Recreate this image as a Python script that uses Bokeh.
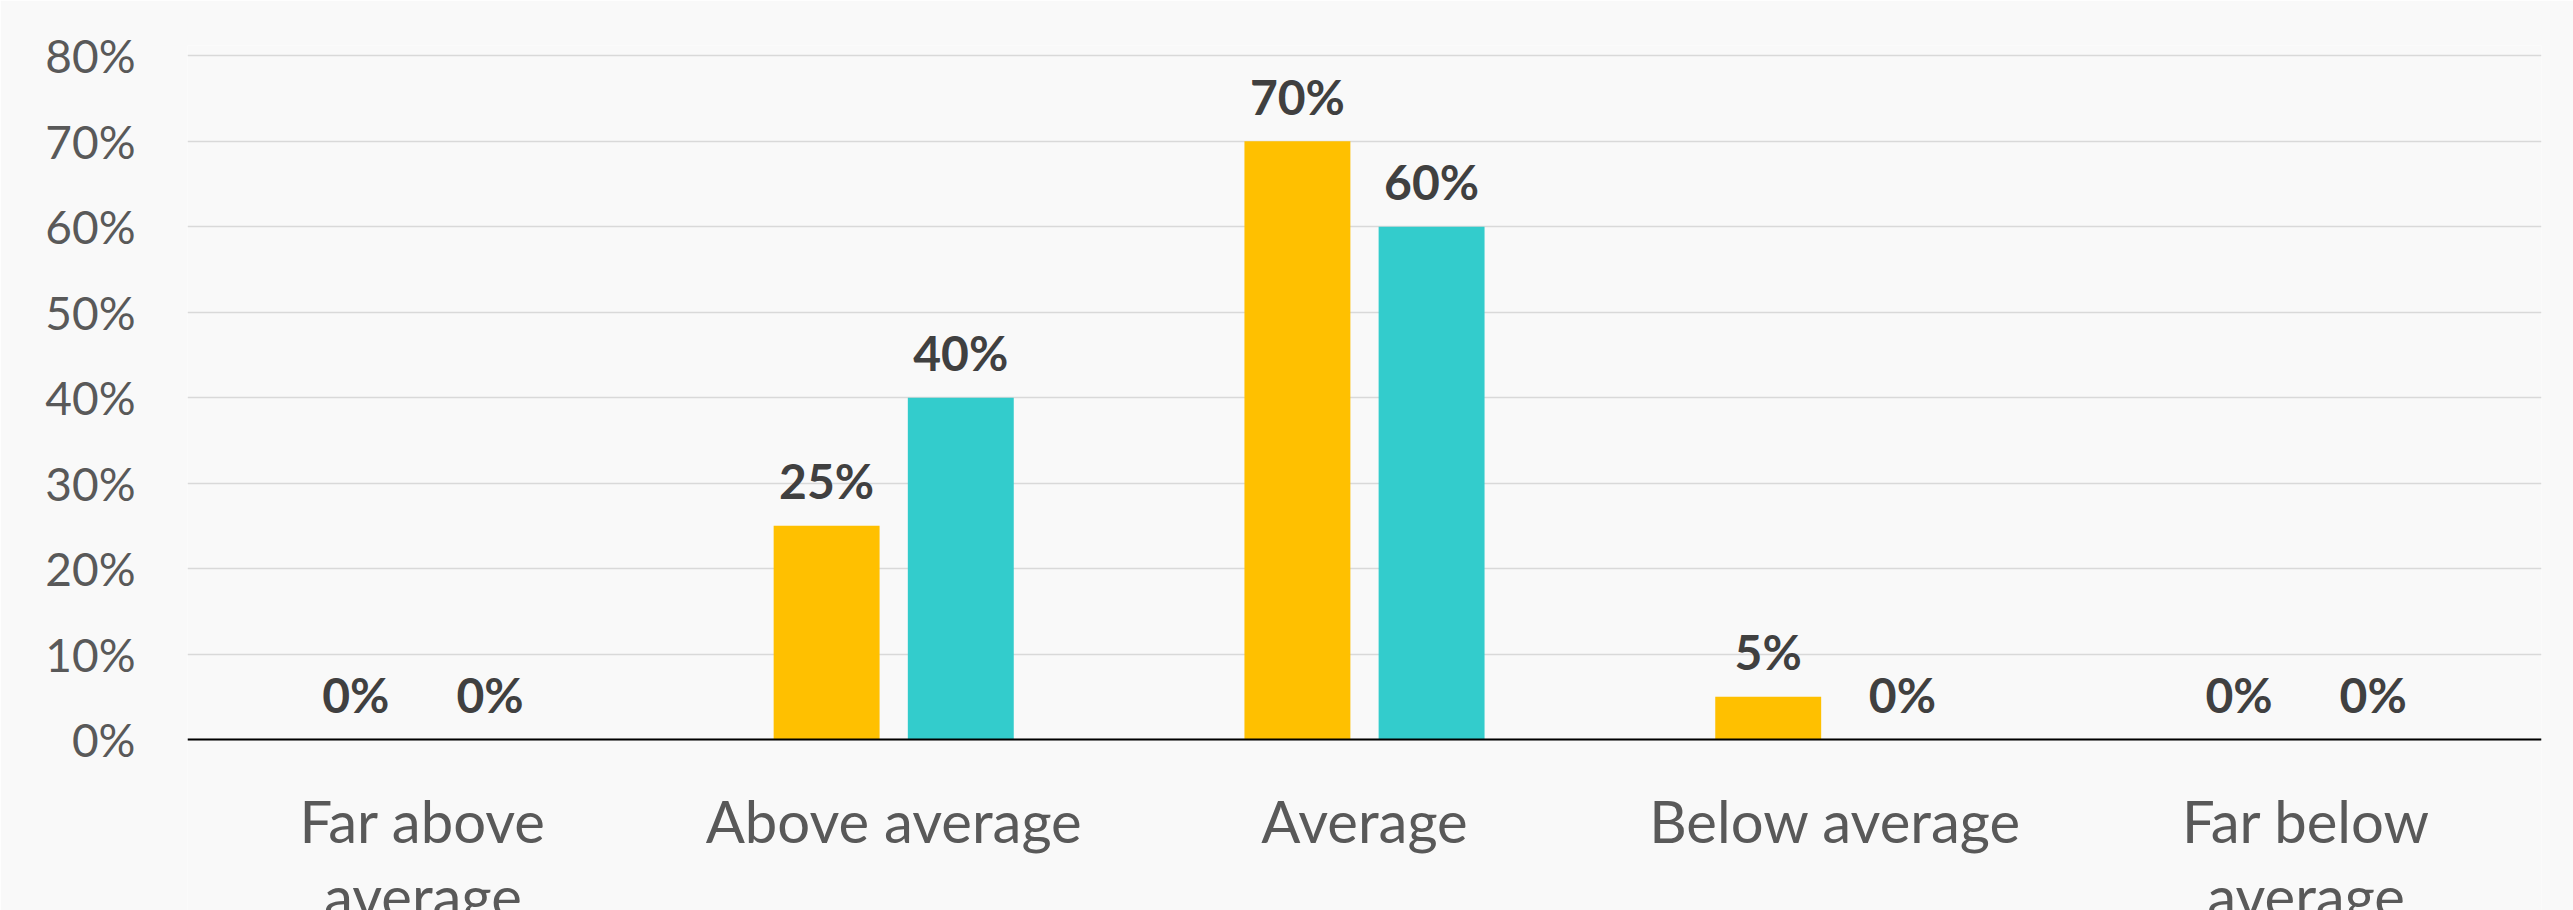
from bokeh.plotting import figure
from bokeh.models import FactorRange, Range1d, FixedTicker, NumeralTickFormatter, ColumnDataSource, Span
from bokeh.transform import dodge
from bokeh.core.properties import value
from bokeh.embed import file_html
from bokeh.resources import INLINE

# Rating categories (x axis) and their two-line display labels
categories = ["Far above average", "Above average", "Average", "Below average", "Far below average"]
category_labels = ["Far above\naverage", "Above average", "Average", "Below average", "Far below\naverage"]

# Share of responses per category, two series
series_a = [0.00, 0.25, 0.70, 0.05, 0.00]
series_b = [0.00, 0.40, 0.60, 0.00, 0.00]

# Y axis ticks
y_ticks = [0.0, 0.1, 0.2, 0.3, 0.4, 0.5, 0.6, 0.7, 0.8]

COLOR_A = "#FFC000"
COLOR_B = "#33CCCC"
BG = "#F9F9F9"
FONT = "Lato"

source = ColumnDataSource(data=dict(
    cat=categories,
    label=category_labels,
    zero=[0] * len(categories),
    a=series_a,
    b=series_b,
    a_lbl=[f"{round(v * 100)}%" for v in series_a],
    b_lbl=[f"{round(v * 100)}%" for v in series_b],
))

# The frame runs to the bottom edge so the wrapped category names can sit below zero
p = figure(
    width=2573, height=910,
    x_range=FactorRange(factors=categories, range_padding=0),
    y_range=Range1d(-0.2001, 0.8121),
    output_backend="svg", toolbar_location=None,
    min_border_left=187, min_border_right=32,
    min_border_top=45, min_border_bottom=0,
)
p.background_fill_color = BG
p.border_fill_color = BG
p.outline_line_color = None

bar_w = 0.225
off = 0.1425
p.vbar(x=dodge("cat", -off, range=p.x_range), top="a", width=bar_w, source=source,
       fill_color=COLOR_A, line_color=None)
p.vbar(x=dodge("cat", off, range=p.x_range), top="b", width=bar_w, source=source,
       fill_color=COLOR_B, line_color=None)

# Baseline at zero
p.add_layout(Span(location=0, dimension="width", line_color="#000000", line_width=2))

# Value labels above the bars
for col, lbl, dx in (("a", "a_lbl", -off), ("b", "b_lbl", off)):
    p.text(x=dodge("cat", dx, range=p.x_range), y=col, text=lbl, source=source,
           text_align="center", text_baseline="alphabetic", y_offset=-45,
           text_font=value(FONT), text_font_style="bold",
           text_font_size="48px", text_color="#404040")

# Category names under the baseline
p.text(x="cat", y="zero", text="label", source=source,
       text_align="center", text_baseline="top", y_offset=47,
       text_font=value(FONT), text_font_size="58px", text_color="#595959",
       text_line_height=1.08)

# Grid
p.xgrid.grid_line_color = None
p.ygrid.grid_line_color = "#D9D9D9"
p.ygrid.grid_line_width = 1.3
p.ygrid.ticker = FixedTicker(ticks=y_ticks)

# Y axis
p.yaxis.ticker = FixedTicker(ticks=y_ticks)
p.yaxis.formatter = NumeralTickFormatter(format="0%")
p.yaxis.axis_line_color = None
p.yaxis.major_tick_line_color = None
p.yaxis.minor_tick_line_color = None
p.yaxis.major_tick_in = 0
p.yaxis.major_tick_out = 0
p.yaxis.major_label_standoff = 52
p.yaxis.major_label_text_font = FONT
p.yaxis.major_label_text_font_size = "46px"
p.yaxis.major_label_text_color = "#595959"

p.xaxis.visible = False

open("out.html", "w").write(file_html(p, INLINE))
